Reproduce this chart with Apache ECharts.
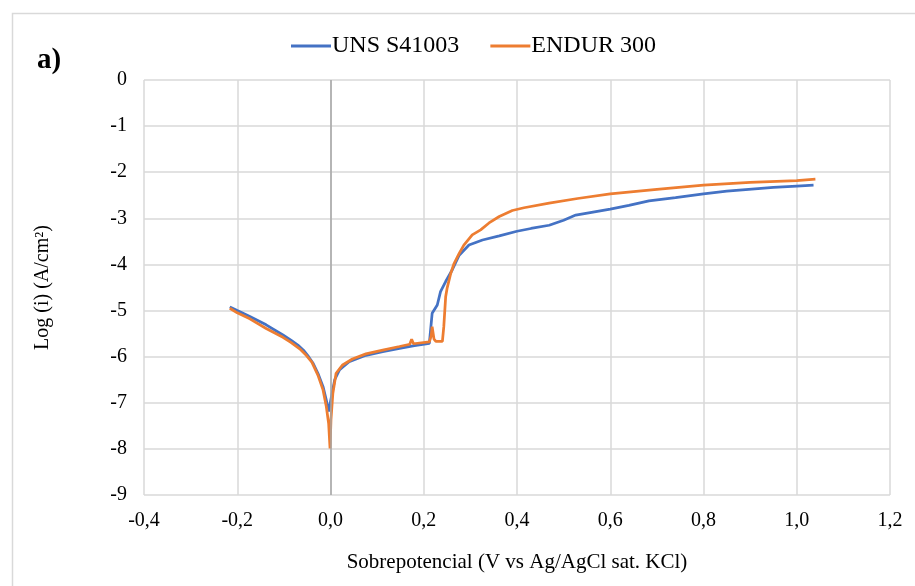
<!DOCTYPE html>
<html>
<head>
<meta charset="utf-8">
<title>Polarización</title>
<script src="https://cdn.jsdelivr.net/npm/echarts@6/dist/echarts.min.js"></script>
<style>
    html, body { margin: 0; padding: 0; background: #fff; }
    #main { width: 915px; height: 586px; }
</style>
</head>
<body>
<div id="main"></div>
<script>
// datos
var serieNombres = ['UNS S41003', 'ENDUR 300'];

// UNS S41003
var potUNS = [-0.216, -0.200, -0.173, -0.138, -0.102, -0.085, -0.070, -0.058, -0.047, -0.037,
    -0.027, -0.016, -0.009, -0.004, -0.001, 0.002, 0.009, 0.019, 0.040, 0.076,
    0.112, 0.148, 0.180, 0.212, 0.216, 0.218, 0.229, 0.236, 0.247, 0.261,
    0.276, 0.297, 0.326, 0.362, 0.400, 0.430, 0.469, 0.500, 0.526, 0.560,
    0.600, 0.640, 0.683, 0.740, 0.800, 0.850, 0.897, 0.950, 1.000, 1.036];
var logUNS = [-4.92, -5.00, -5.13, -5.31, -5.53, -5.64, -5.75, -5.86, -6.00, -6.15,
    -6.36, -6.65, -6.94, -7.19, -7.22, -6.87, -6.50, -6.29, -6.11, -5.97,
    -5.89, -5.82, -5.76, -5.71, -5.68, -5.06, -4.88, -4.59, -4.37, -4.12,
    -3.80, -3.58, -3.47, -3.38, -3.28, -3.22, -3.15, -3.04, -2.93, -2.87,
    -2.80, -2.72, -2.62, -2.55, -2.47, -2.41, -2.37, -2.33, -2.30, -2.28];

// ENDUR 300
var potEND = [-0.216, -0.200, -0.173, -0.138, -0.102, -0.085, -0.066, -0.052, -0.040, -0.027,
    -0.016, -0.009, -0.004, -0.001, 0.001, 0.005, 0.012, 0.026, 0.047, 0.076,
    0.112, 0.148, 0.170, 0.174, 0.178, 0.212, 0.216, 0.218, 0.222, 0.226,
    0.240, 0.243, 0.247, 0.250, 0.258, 0.265, 0.276, 0.286, 0.304, 0.322,
    0.340, 0.362, 0.390, 0.415, 0.469, 0.530, 0.600, 0.700, 0.800, 0.900,
    1.000, 1.040];
var logEND = [-4.95, -5.05, -5.18, -5.39, -5.58, -5.69, -5.83, -5.97, -6.12, -6.40,
    -6.72, -7.08, -7.45, -7.99, -7.37, -6.80, -6.36, -6.18, -6.05, -5.94,
    -5.86, -5.78, -5.73, -5.62, -5.72, -5.68, -5.55, -5.35, -5.62, -5.67,
    -5.67, -5.35, -4.70, -4.52, -4.19, -3.98, -3.76, -3.58, -3.36, -3.25,
    -3.10, -2.96, -2.83, -2.77, -2.67, -2.57, -2.47, -2.37, -2.28, -2.22,
    -2.18, -2.15];

var colores = ['#4472c4', '#ed7d31'];
var fuente = 'Liberation Serif, Times New Roman, serif';

function pares(xs, ys) {
    var out = [];
    for (var i = 0; i < xs.length; i++) {
        out.push([xs[i], ys[i]]);
    }
    return out;
}

var chart = echarts.init(document.getElementById('main'));

var option = {
    backgroundColor: '#ffffff',
    animation: false,
    color: colores,
    textStyle: { fontFamily: fuente, color: '#000' },
    graphic: [
        {
            // marco exterior del grafico
            type: 'rect',
            left: 10, top: 11,
            shape: { width: 1000, height: 1000 },
            style: { fill: 'none', stroke: '#d9d9d9', lineWidth: 1.5 },
            silent: true
        },
        {
            type: 'text',
            left: 37, top: 46,
            style: { text: 'a)', font: 'bold 29px ' + fuente, fill: '#000' }
        }
    ],
    legend: {
        left: 286,
        top: 29,
        icon: 'rect',
        itemWidth: 40,
        itemHeight: 3,
        itemGap: 31,
        textStyle: { fontFamily: fuente, fontSize: 24, color: '#000', padding: [0, 0, 0, -4] },
        data: serieNombres
    },
    grid: {
        left: 144,
        right: 25,
        top: 80,
        bottom: 91
    },
    xAxis: {
        type: 'value',
        min: -0.4,
        max: 1.2,
        interval: 0.2,
        name: 'Sobrepotencial (V vs Ag/AgCl sat. KCl)',
        nameLocation: 'middle',
        nameGap: 57,
        nameTextStyle: { fontFamily: fuente, fontSize: 21, color: '#000' },
        axisLine: { show: false },
        axisTick: { show: false },
        axisLabel: {
            margin: 16,
            fontSize: 20,
            fontFamily: fuente,
            color: '#000',
            formatter: function (v) {
                return (Math.round(v * 10) / 10).toFixed(1).replace('.', ',');
            }
        },
        splitLine: { show: true, lineStyle: { color: '#d9d9d9', width: 1.5 } }
    },
    yAxis: {
        type: 'value',
        min: -9,
        max: 0,
        interval: 1,
        name: 'Log (i) (A/cm²)',
        nameLocation: 'middle',
        nameGap: 91,
        nameTextStyle: { fontFamily: fuente, fontSize: 20, color: '#000' },
        axisLine: { show: false },
        axisTick: { show: false },
        axisLabel: { margin: 17, fontSize: 20, fontFamily: fuente, color: '#000' },
        splitLine: { show: true, lineStyle: { color: '#d9d9d9', width: 1.5 } }
    },
    series: [
        {
            name: serieNombres[0],
            type: 'line',
            showSymbol: false,
            symbol: 'none',
            data: pares(potUNS, logUNS),
            lineStyle: { width: 2.75, color: colores[0] },
            z: 3,
            markLine: {
                silent: true,
                symbol: 'none',
                label: { show: false },
                lineStyle: { color: '#a6a6a6', width: 1.5, type: 'solid' },
                data: [{ xAxis: 0 }]
            }
        },
        {
            name: serieNombres[1],
            type: 'line',
            showSymbol: false,
            symbol: 'none',
            data: pares(potEND, logEND),
            lineStyle: { width: 2.75, color: colores[1] },
            z: 4
        }
    ]
};

chart.setOption(option);
</script>
</body>
</html>
